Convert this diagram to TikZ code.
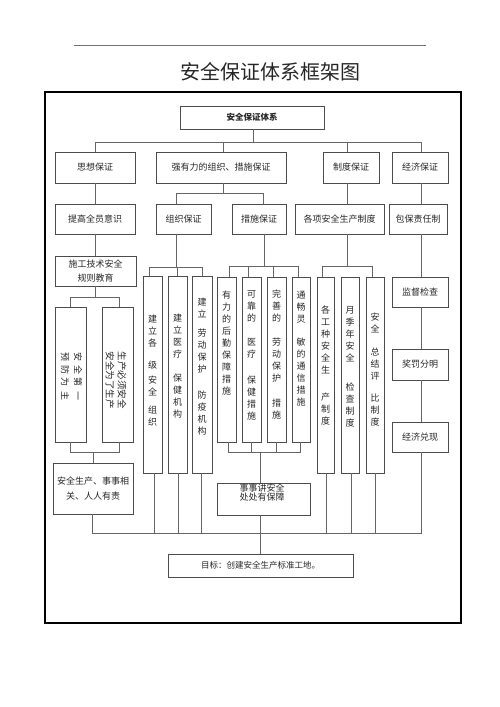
\documentclass[tikz,border=0pt]{standalone}
\usepackage{fontspec}
\setmainfont{Noto Sans CJK SC}
\begin{document}
\begin{tikzpicture}[x=1pt,y=-1pt,
  box/.style={draw=black!70, line width=0.8pt, inner sep=0pt, font=\fontsize{9}{14.5}\selectfont, text=black!85, align=center},
  conn/.style={draw=black!60, line width=0.8pt},
  vtext/.style={inner sep=0pt, font=\fontsize{9}{12}\selectfont, text=black!85, align=center, anchor=north},
]
\useasboundingbox (0,0) rectangle (500,707);
% header
\draw[black!55, line width=0.8pt] (74,45) -- (426,45);
\node[font=\fontsize{20}{24}\selectfont, text=black!85, inner sep=0pt] (title) at (270,72) {安全保证体系框架图};
\draw[black, line width=2.2pt] (45,92) rectangle (461,623);

% level 1
\node[box, minimum width=144, minimum height=23, font=\fontsize{8.5}{10}\selectfont\bfseries] (top) at (252,117.5) {安全保证体系};
% level 2
\node[box, minimum width=80, minimum height=31] (sixiang) at (95,167.5) {思想保证};
\node[box, minimum width=130, minimum height=31] (qiang) at (221,167.5) {强有力的组织、措施保证};
\node[box, minimum width=56, minimum height=31] (zhidu) at (351,167.5) {制度保证};
\node[box, minimum width=56, minimum height=31] (jingji) at (420,167.5) {经济保证};
% level 3
\node[box, minimum width=80, minimum height=30] (tigao) at (95,219) {提高全员意识};
\node[box, minimum width=55, minimum height=30] (zuzhi) at (183.5,219) {组织保证};
\node[box, minimum width=54, minimum height=30] (cuoshi) at (259,219) {措施保证};
\node[box, minimum width=89, minimum height=30] (gexiang) at (339.5,219) {各项安全生产制度};
\node[box, minimum width=58, minimum height=30] (baobao) at (418,219) {包保责任制};
% left column
\node[box, minimum width=81, minimum height=30] (shigong) at (95.5,271) {施工技术安全\\规则教育};
\node[box, minimum width=31, minimum height=135] (anquan) at (70.5,374.5) {};
\node[box, minimum width=31, minimum height=135] (shengchan) at (117.5,374.5) {};
\node[vtext, anchor=center, rotate=-90, font=\fontsize{9}{13}\selectfont] (tanquan) at (71.5,376) {安\kern4pt 全\kern4pt 第\kern4pt 一\\预\kern4pt 防\kern4pt 为\kern4pt 主};
\node[vtext, anchor=center, rotate=-90, font=\fontsize{9.5}{12}\selectfont] (tshengchan) at (116,380) {生产必须安全\\安全为了生产};
\node[box, minimum width=80, minimum height=51] (xiangguan) at (93,488.5) {安全生产、事事相\\关、人人有责};
% organisation boxes
\node[box, minimum width=19, minimum height=197] (o1) at (152.5,374.5) {};
\node[box, minimum width=19, minimum height=197] (o2) at (177.5,374.5) {};
\node[box, minimum width=20, minimum height=197] (o3) at (202,374.5) {};
\node[vtext] (to1) at (152.5,315) {建\\立\\各\\[10pt]级\\[3pt]安\\全\\[6pt]组\\织};
\node[vtext] (to2) at (177.5,314) {建\\立\\医\\疗\\[12pt]保\\健\\机\\构};
\node[vtext] (to3) at (202,298) {建\\立\\[7pt]劳\\动\\保\\护\\[14pt]防\\疫\\机\\构};
% measure boxes
\node[box, minimum width=19, minimum height=165] (c1) at (226.5,359.5) {};
\node[box, minimum width=19, minimum height=165] (c2) at (251.5,359.5) {};
\node[box, minimum width=19, minimum height=165] (c3) at (276.5,359.5) {};
\node[box, minimum width=18, minimum height=165] (c4) at (301,359.5) {};
\node[vtext] (tc1) at (226.5,291) {有\\力\\的\\后\\勤\\保\\障\\措\\施};
\node[vtext] (tc2) at (251.5,290) {可\\靠\\的\\[12pt]医\\疗\\[14pt]保\\健\\措\\施};
\node[vtext] (tc3) at (276.5,290) {完\\善\\的\\[12pt]劳\\动\\保\\护\\[13pt]措\\施};
\node[vtext] (tc4) at (301,291) {通\\畅\\灵\\[11pt]敏\\的\\通\\信\\措\\施};
\node[box, minimum width=93, minimum height=32] (shishi) at (263.5,499) {};
\node[inner sep=0pt, font=\fontsize{9}{9}\selectfont, text=black!85, align=center] (tshishi) at (262,493) {事事讲安全\\处处有保障};
% system boxes
\node[box, minimum width=17, minimum height=196] (z1) at (325.5,375) {};
\node[box, minimum width=18, minimum height=196] (z2) at (350,375) {};
\node[box, minimum width=18, minimum height=196] (z3) at (375,375) {};
\node[vtext] (tz1) at (325.5,306) {各\\工\\种\\安\\全\\生\\[15pt]产\\制\\度};
\node[vtext] (tz2) at (350,306) {月\\季\\年\\安\\全\\[17pt]检\\查\\制\\度};
\node[vtext] (tz3) at (375,313) {安\\全\\[11pt]总\\结\\评\\[10pt]比\\制\\度};
% economic column
\node[box, minimum width=56, minimum height=30] (jiandu) at (420,292) {监督检查};
\node[box, minimum width=56, minimum height=31] (jiangfa) at (420,364.5) {奖罚分明};
\node[box, minimum width=56, minimum height=30] (duixian) at (420,437) {经济兑现};
% goal
\node[box, minimum width=185, minimum height=23, font=\fontsize{8.5}{10}\selectfont] (mubiao) at (260.5,565.5) {目标：创建安全生产标准工地。};

% ---------- connectors ----------
\coordinate (b1L) at (95,142);
\coordinate (b1R) at (421,142);
\coordinate (xtop) at (253,0);
\coordinate (xq) at (223,0);
\coordinate (xz) at (347,0);
\coordinate (xj) at (421,0);
\draw[conn] (xtop |- top.south) -- (xtop |- b1L);
\draw[conn] (sixiang.north) -- (sixiang.north |- b1L) -- (b1R) -- (xj |- jingji.north);
\draw[conn] (xq |- b1L) -- (xq |- qiang.north);
\draw[conn] (xz |- b1L) -- (xz |- zhidu.north);
% level 2 -> 3
\draw[conn] (sixiang.south) -- (tigao.north);
\coordinate (b2L) at (176,193);
\coordinate (b2R) at (263,193);
\draw[conn] (xq |- qiang.south) -- (xq |- b2L);
\draw[conn] (b2L |- zuzhi.north) -- (b2L) -- (b2R) -- (b2R |- cuoshi.north);
\draw[conn] (xz |- zhidu.south) -- (xz |- gexiang.north);
\draw[conn] (xj |- jingji.south) -- (xj |- baobao.north);
% left column
\draw[conn] (tigao.south) -- (tigao.south |- shigong.north);
\coordinate (b3L) at (70,297);
\coordinate (b3R) at (119,297);
\draw[conn] (95,0 |- shigong.south) -- (95,297);
\draw[conn] (b3L |- anquan.north) -- (b3L) -- (b3R) -- (b3R |- shengchan.north);
\coordinate (b4L) at (70,452);
\coordinate (b4R) at (119,452);
\draw[conn] (b4L |- anquan.south) -- (b4L) -- (b4R) -- (b4R |- shengchan.south);
\draw[conn] (93,452) -- (93,0 |- xiangguan.north);
% organisation
\coordinate (b5L) at (149,267);
\coordinate (b5R) at (202,267);
\draw[conn] (b2L |- zuzhi.south) -- (b2L |- b5L);
\draw[conn] (b5L |- o1.north) -- (b5L) -- (b5R) -- (b5R |- o3.north);
\draw[conn] (177,0 |- b5L) -- (177,0 |- o2.north);
% measures
\coordinate (b6L) at (229,266);
\coordinate (b6R) at (298,266);
\draw[conn] (264,0 |- cuoshi.south) -- (264,266);
\draw[conn] (b6L |- c1.north) -- (b6L) -- (b6R) -- (b6R |- c4.north);
\draw[conn] (248,266) -- (248,0 |- c2.north);
\draw[conn] (273,266) -- (273,0 |- c3.north);
\coordinate (b7L) at (228,452);
\coordinate (b7R) at (300,452);
\draw[conn] (b7L |- c1.south) -- (b7L) -- (b7R) -- (b7R |- c4.south);
\draw[conn] (251,0 |- c2.south) -- (251,452);
\draw[conn] (276,0 |- c3.south) -- (276,452);
\draw[conn] (260,452) -- (260,0 |- shishi.north);
% systems
\coordinate (b8L) at (322,266);
\coordinate (b8R) at (372,266);
\draw[conn] (xz |- gexiang.south) -- (xz |- b8L);
\draw[conn] (b8L |- z1.north) -- (b8L) -- (b8R) -- (b8R |- z3.north);
% economic
\draw[conn] (xj |- baobao.south) -- (xj |- jiandu.north);
\draw[conn] (xj |- jiandu.south) -- (xj |- jiangfa.north);
\draw[conn] (xj |- jiangfa.south) -- (xj |- duixian.north);
% bottom bus
\coordinate (b9L) at (92,533);
\coordinate (b9R) at (421,533);
\draw[conn] (b9L |- xiangguan.south) -- (b9L) -- (b9R) -- (b9R |- duixian.south);
\draw[conn] (154,0 |- o1.south) -- (154,533);
\draw[conn] (178,0 |- o2.south) -- (178,533);
\draw[conn] (201,0 |- o3.south) -- (201,533);
\draw[conn] (326,0 |- z1.south) -- (326,533);
\draw[conn] (351,0 |- z2.south) -- (351,533);
\draw[conn] (375,0 |- z3.south) -- (375,533);
\draw[conn] (260,0 |- shishi.south) -- (260,0 |- mubiao.north);
\end{tikzpicture}
\end{document}
